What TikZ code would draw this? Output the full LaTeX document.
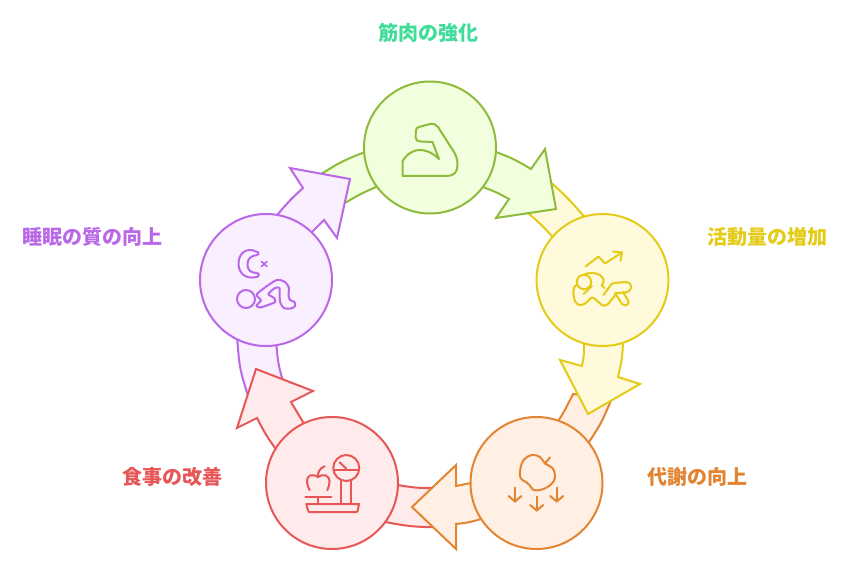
\documentclass[tikz,border=0pt]{standalone}
\usepackage{fontspec}
\newfontfamily\cjk{Noto Sans CJK JP}
\definecolor{gS}{HTML}{8DBB3C}\definecolor{gF}{HTML}{F2FFDE}
\definecolor{yS}{HTML}{E4CB17}\definecolor{yF}{HTML}{FFFADB}
\definecolor{oS}{HTML}{E28432}\definecolor{oF}{HTML}{FFF0E3}
\definecolor{rS}{HTML}{E85757}\definecolor{rF}{HTML}{FFEBEB}
\definecolor{pS}{HTML}{B968E8}\definecolor{pF}{HTML}{F9EFFF}
\definecolor{tG}{HTML}{3FDD98}
\tikzset{
 band/.style n args={2}{draw=#1,fill=#2,line width=2pt,line join=miter,miter limit=10},
 disc/.style n args={2}{circle,draw=#1,fill=#2,line width=2pt,minimum size=132pt,inner sep=0pt,outer sep=0pt},
 icon/.style={line width=2pt,line join=round,line cap=round},
 lab/.style={font=\cjk\bfseries\fontsize{20}{24}\selectfont,inner sep=0pt}
}
\begin{document}
\begin{tikzpicture}[x=1pt,y=-1pt]
\useasboundingbox (0,0) rectangle (859,588);
% tails
\draw[band={gS}{gF}] (318,176) .. controls (342,161) .. (370,150) -- (383,184) .. controls (360,194) .. (340,206) -- cycle;
\draw[band={yS}{yF}] (546,178) .. controls (568,198) .. (589,222) -- (558,243) .. controls (541,224) .. (522,208) -- cycle;
\draw[band={oS}{oF}] (612,398) .. controls (601,424) .. (585,448) -- (552,430) .. controls (563,414) .. (573,394) -- cycle;
\draw[band={rS}{rF}] (380,521) .. controls (409,526.5) .. (440,527.5) -- (440,488) .. controls (415,488) .. (392,484) -- cycle;
\draw[band={pS}{pF}] (237,336) .. controls (239.5,369) .. (250,402) -- (285,388) .. controls (278,364) .. (276,340) -- cycle;
% heads
\draw[band={gS}{gF}] (490,149.5) -- (496,152) .. controls (514,159) .. (531,169) -- (545,149) -- (556,209) -- (496,218) -- (509,199) .. controls (497,192.5) .. (483,187) -- (477,184) -- cycle;
\draw[band={yS}{yF}] (624,337) -- (623,343) .. controls (622,360) .. (618,377) -- (640,384) -- (588,414) -- (560,360) -- (582,366) .. controls (584,355) .. (584,343) -- (584,337) -- cycle;
\draw[band={oS}{oF}] (478,482) -- (471,483) .. controls (463.5,485) .. (456,486) -- (456,465) -- (412,507) -- (456,549) -- (456,524) .. controls (469,522.5) .. (481,519) -- (488,517) -- cycle;
\draw[band={rS}{rF}] (306,427) -- (303,422) .. controls (296.5,412.5) .. (291,402) -- (313,391) -- (256,369) -- (237,428) -- (257,418) .. controls (265,433.5) .. (275,448) -- (279,453) -- cycle;
\draw[band={pS}{pF}] (273,219) -- (278,214) .. controls (290,200) .. (303,188) -- (290,168) -- (350,179) -- (337,238) -- (324,220) -- (312,232) -- (307,237) -- cycle;
% discs
\node[disc={gS}{gF}] (muscle) at (430,147.5) {};
\node[disc={yS}{yF}] (activity) at (602.5,280) {};
\node[disc={oS}{oF}] (metab) at (536.5,483) {};
\node[disc={rS}{rF}] (food) at (332,483) {};
\node[disc={pS}{pF}] (sleep) at (266,280) {};
% muscle icon
\draw[icon,gS] (402.5,176) -- (402.5,161) .. controls (408,153) and (413,150.5) .. (419,150) .. controls (427,150) and (433,153) .. (439,159) -- (432.5,142) -- (421,141.5) .. controls (417,141.5) and (415.5,139.5) .. (415.5,137) -- (416,130.5) .. controls (416,128.5) and (417,127.5) .. (419,127) -- (430,124) .. controls (434,123.5) and (436,124.5) .. (438,127) -- (454,152) .. controls (456.5,156) and (457.5,160) .. (457.5,165) .. controls (457.5,172) and (454,176) .. (447,176) -- cycle;
% activity icon
\draw[icon,yS] (585.5,266.5) -- (598.5,256.5) -- (605,263.5) -- (622,252.5);
\draw[icon,yS] (613,251.5) -- (622,252.5) -- (620.5,261);
\draw[icon,yS] (584,282) circle (7.2);
\draw[icon,yS] (583.5,294) -- (592,286);
\draw[icon,yS] (585,274) .. controls (590,272.5) and (597,272.5) .. (600.5,275.5) .. controls (605,279) and (604,283) .. (601.5,285.5) -- (604.5,288);
\draw[icon,yS] (603.5,295) -- (610,286) .. controls (611,283.5) and (613,283) .. (615,283) -- (625,282) .. controls (630,282) and (631.5,285) .. (631,288) .. controls (630.5,291) and (628,292.5) .. (625,292.5) -- (617,293) -- (608,304) .. controls (605,306.5) and (603,306) .. (600,303.5) -- (594.5,298.5) .. controls (591,296.5) and (591,298) .. (588,301) .. controls (584,305.5) and (578,307) .. (575.5,302) .. controls (573,297) and (573,291) .. (574,288) .. controls (574.5,286) and (575.5,285.5) .. (577,285);
\draw[icon,yS] (615,293) -- (622,304) .. controls (625,306.5) and (629,305) .. (628.5,301.5) -- (623,292);
% apple icon
\draw[icon,oS] (550,457.5) -- (545,463.5);
\draw[icon,oS] plot[smooth cycle,tension=0.6] coordinates {(545,463.5) (540,457) (532,455) (524,459.5) (520.5,468) (520.5,478) (526,482) (529.5,485) (533.5,490) (540,490) (547.5,487) (553.5,481.5) (555,475) (552.5,468)};
\foreach \x/\y in {515/487.5,536.7/496.5,556.7/487.5}{
 \draw[icon,oS] (\x,\y) -- ++(0,14);
 \draw[icon,oS] (\x-6.5,\y+8.5) -- (\x,\y+14) -- (\x+6.5,\y+8.5);
}
% scale icon
\draw[icon,rS] (346.3,468) circle (13);
\draw[icon,rS] (333.5,469.5) -- (359,469.5);
\draw[icon,rS] (339.7,462.3) -- (346.3,468.8);
\draw[icon,rS] (340.7,481) -- (340.7,504) (351.3,481) -- (351.3,504);
\draw[icon,rS] (306.3,504) -- (359,504) -- (357.5,511.5) .. controls (357.3,511.8) and (357,512) .. (356,512) -- (309,512) -- (307.5,509) -- cycle;
\draw[icon,rS] (305.3,496.7) -- (331.3,496.7) (318,496.7) -- (318,504);
\draw[icon,rS] (309.7,490.3) .. controls (306.5,484) and (305.5,478) .. (310,475.5) .. controls (313,474.5) and (316,475.5) .. (318,477) .. controls (320,475.5) and (323,474.5) .. (326,475.5) .. controls (331,478) and (330,484) .. (327.3,490.3);
\draw[icon,rS] (318,477) .. controls (317.5,472) and (320,468) .. (324.7,466.3);
% sleep icon
\draw[icon,pS] (256,251.5) .. controls (247,247) and (238.5,253) .. (238.5,263.5) .. controls (238.5,275) and (248,280) .. (258,276.5) .. controls (260,275) and (259,273) .. (257,273) .. controls (251,273) and (247,270) .. (247.5,264) .. controls (247.5,259) and (251,255.5) .. (257,255) .. controls (259.5,254) and (259,252) .. (256,251.5) -- cycle;
\draw[icon,pS,line width=1.6pt] (261.5,261.5) -- (267,266.5) (267,261.5) -- (261.5,266.5);
\draw[icon,pS] (246,299) circle (9);
\draw[icon,pS] plot[smooth cycle,tension=0.5] coordinates {(257,294) (267,286) (277,280) (285,282) (289,288) (288.5,295) (290,300) (294.5,302) (295,306) (291,308.5) (284,308) (280.5,303) (279.5,295) (279.5,288) (275,288) (268.5,294) (274,298) (275,302) (268,305) (260,307.5) (256.5,305.5) (261,300.5) (258,297)};
% labels
\node[lab,text=tG] (l1) at (428,33) {筋肉の強化};
\node[lab,text=yS] (l2) at (767.5,237) {活動量の増加};
\node[lab,text=oS] (l3) at (697,477) {代謝の向上};
\node[lab,text=rS] (l4) at (172,477) {食事の改善};
\node[lab,text=pS] (l5) at (92,237) {睡眠の質の向上};
\end{tikzpicture}
\end{document}
